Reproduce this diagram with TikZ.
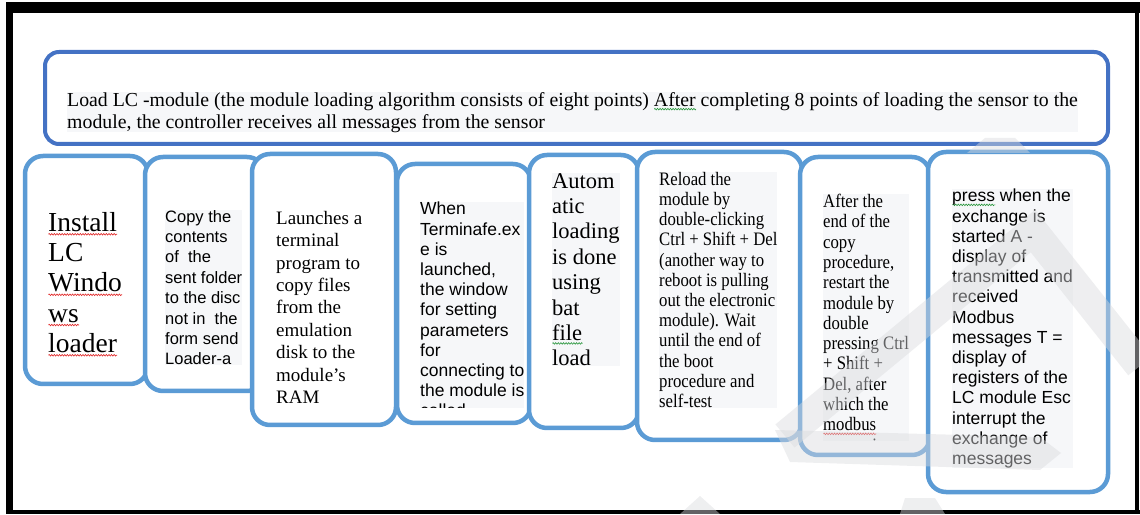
\documentclass[tikz,border=0pt]{standalone}
\usepackage{fontspec}
\setmainfont{Liberation Serif}
\newfontfamily\arialfont{Liberation Sans}
\newfontfamily\narrowserif[FakeStretch=0.88]{Liberation Serif}
\usetikzlibrary{positioning, decorations.pathmorphing}
\definecolor{darkblue}{RGB}{68,114,196}
\definecolor{lightblue}{RGB}{91,155,213}
\definecolor{watermark}{RGB}{218,219,222}
\definecolor{hilite}{RGB}{246,247,249}
\definecolor{spellred}{RGB}{225,40,40}
\definecolor{spellgreen}{RGB}{40,150,60}
\newsavebox\wavebox
\newlength\wavelen
\newcommand\spellwave[2]{\sbox\wavebox{#2}\setlength\wavelen{\wd\wavebox}\rlap{\tikz[baseline={(0pt,3pt)}]\draw[#1, fill=none, line width=0.6pt, decorate, decoration={zigzag, amplitude=0.8pt, segment length=2.6pt}] (0pt,0pt) -- (\wavelen,0pt);}\usebox\wavebox}
\newcommand\redwave[1]{\spellwave{spellred}{#1}}
\newcommand\greenwave[1]{\spellwave{spellgreen}{#1}}
\tikzset{topbox/.style={draw=darkblue, line width=4pt, rounded corners=14pt, fill=white},
stepbox/.style={draw=lightblue, line width=4.5pt, rounded corners=18pt, fill=white},
boxtext/.style={anchor=north west, inner sep=0pt, align=left},
shaded/.style={fill=hilite}}

\begin{document}
\begin{tikzpicture}
        \useasboundingbox (0pt, 0pt) rectangle (1140pt, 514pt);
        % Frame
        \fill[black] (6pt, 0pt) rectangle (13pt, 512pt);
        \fill[black] (6pt, 501pt) rectangle (1140pt, 512pt);
        \fill[black] (6pt, 0pt) rectangle (1140pt, 4pt);
        \fill[black] (1135pt, 0pt) rectangle (1139pt, 512pt);
        % Header
        \node[topbox, minimum width=1063pt, minimum height=92pt] (load) at (576.5pt, 416pt) {};
        \node[boxtext, shaded, font=\fontsize{19.8pt}{22pt}\selectfont] (loadtext) at (67pt, 422pt) {Load LC -module (the module loading algorithm consists of eight points) \greenwave{After} completing 8 points of loading the sensor to the\\module, the controller receives all messages from the sensor};
        % Steps
        \foreach \name/\cx/\cy/\w/\h in {
            install/86.5pt/244pt/123pt/228pt,
            copy/205pt/240pt/120pt/234pt,
            launch/324pt/224.5pt/144pt/271pt,
            terminal/464pt/220.5pt/134pt/259pt,
            batload/584pt/222.5pt/110pt/273pt,
            reload/719.5pt/218pt/165pt/288pt,
            restart/865pt/208pt/130pt/298pt,
            exchange/1018pt/192pt/180pt/340pt} {
            \node[stepbox, minimum width=\w, minimum height=\h] (\name) at (\cx, \cy) {};
        }
        % Step texts
        \node[boxtext, font=\fontsize{27.5pt}{30.25pt}\selectfont] (installtext) at (48pt, 302pt) {\redwave{Install}\\LC\\\redwave{Windo}\\\redwave{ws}\\\redwave{loader}};
        \node[boxtext, shaded, font=\arialfont\fontsize{16.5pt}{20.4pt}\selectfont] (copytext) at (165pt, 304pt) {Copy the\\contents\\of\ \ the\\sent folder\\to the disc\\not in\ \ the\\form send\\Loader-a};
        \node[boxtext, font=\fontsize{19pt}{22.4pt}\selectfont] (launchtext) at (276pt, 303pt) {Launches a\\terminal\\program to\\copy files\\from the\\emulation\\disk to the\\module's\\RAM};
        \begin{scope}
            \clip (400pt, 106pt) rectangle (530pt, 320pt);
            \node[boxtext, shaded, font=\arialfont\fontsize{17.5pt}{20.2pt}\selectfont] (terminaltext) at (420pt, 312pt) {When\\Terminafe.ex\\e is\\launched,\\the window\\for setting\\parameters\\for\\connecting to\\the module is\\called};
        \end{scope}
        \node[boxtext, shaded, font=\fontsize{22.5pt}{25.4pt}\selectfont] (batloadtext) at (552pt, 341pt) {Autom\\atic\\loading\\is done\\using\\bat\\\greenwave{file}\\load};
        \node[boxtext, shaded, font=\narrowserif\fontsize{19pt}{20.2pt}\selectfont] (reloadtext) at (659pt, 342pt) {Reload the\\module by\\double-clicking\\Ctrl + Shift + Del\\(another way to\\reboot is pulling\\out the electronic\\module). Wait\\until the end of\\the boot\\procedure and\\self-test};
        \begin{scope}
            \clip (805pt, 73pt) rectangle (925pt, 330pt);
            \node[boxtext, shaded, font=\narrowserif\fontsize{19pt}{20.3pt}\selectfont] (restarttext) at (823pt, 320pt) {After the\\end of the\\copy\\procedure,\\restart the\\module by\\double\\pressing Ctrl\\+ Shift +\\Del, after\\which the\\\redwave{modbus}\\messaging};
        \end{scope}
        \node[boxtext, shaded, font=\arialfont\fontsize{17.5pt}{20.2pt}\selectfont] (exchangetext) at (952pt, 325pt) {\greenwave{press} when the\\exchange is\\started A -\\display of\\transmitted and\\received\\Modbus\\messages T =\\display of\\registers of the\\LC module Esc\\interrupt the\\exchange of\\messages};
        % Watermark
        \begin{scope}[opacity=0.45]
            \draw[watermark, line width=30pt, line join=miter] (785pt, 78pt) -- (1033pt, 283pt) -- (1140pt, 148pt);
            \fill[watermark] (775pt, 84pt) -- (1040pt, 77pt) -- (1061pt, 61pt) -- (1040pt, 44pt) -- (790pt, 52pt) -- cycle;
            \fill[watermark] (967pt, 361pt) -- (985pt, 376pt) -- (1015pt, 376pt) -- (1030pt, 361pt) -- cycle;
            \fill[watermark] (680pt, 0pt) -- (700pt, 18pt) -- (720pt, 0pt) -- cycle;
            \fill[watermark] (900pt, 0pt) -- (905pt, 16pt) -- (935pt, 16pt) -- (945pt, 0pt) -- cycle;
        \end{scope}
\end{tikzpicture}
\end{document}
